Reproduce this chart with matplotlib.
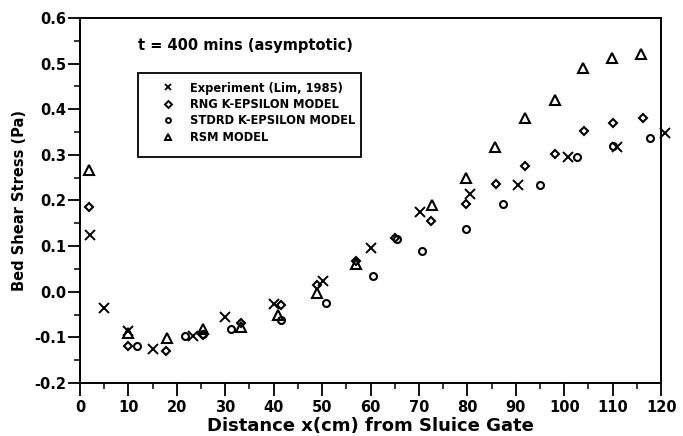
# bed shear stress downstream of the sluice gate, t = 400 min
import matplotlib
matplotlib.use('Agg')
import matplotlib.pyplot as plt
from matplotlib.patches import Rectangle
from matplotlib.lines import Line2D
import numpy as np

# experiment (Lim, 1985)
exp_x = [2.0, 5.0, 10.0, 15.0, 23.4, 30.0, 40.0, 50.2, 60.2, 70.3, 80.5, 90.5, 100.7, 110.8, 120.7]
exp_y = [0.124, -0.036, -0.085, -0.126, -0.096, -0.055, -0.027, 0.024, 0.095, 0.174, 0.214, 0.234, 0.296, 0.317, 0.348]

# RNG k-epsilon
rng_x = [1.8, 10.0, 17.7, 25.5, 33.3, 41.5, 48.9, 57.0, 65.0, 72.5, 79.8, 85.9, 91.9, 98.1, 104.1, 110.1, 116.2]
rng_y = [0.185, -0.120, -0.130, -0.095, -0.068, -0.030, 0.015, 0.068, 0.118, 0.155, 0.192, 0.236, 0.276, 0.302, 0.353, 0.370, 0.380]

# standard k-epsilon
std_x = [11.8, 21.7, 25.5, 31.2, 41.5, 50.8, 60.6, 65.5, 70.7, 79.7, 87.3, 94.9, 102.6, 110.0, 117.8]
std_y = [-0.118, -0.096, -0.092, -0.082, -0.062, -0.025, 0.035, 0.115, 0.090, 0.137, 0.192, 0.233, 0.295, 0.320, 0.337]

# reynolds stress model
rsm_x = [1.8, 10.0, 17.9, 25.5, 33.3, 41.0, 48.9, 57.0, 72.7, 79.8, 85.8, 91.9, 98.0, 103.8, 109.9, 115.8]
rsm_y = [0.267, -0.090, -0.101, -0.082, -0.078, -0.050, -0.003, 0.060, 0.190, 0.250, 0.318, 0.380, 0.421, 0.490, 0.512, 0.521]

legend_labels = ['Experiment (Lim, 1985)', 'RNG K-EPSILON MODEL',
                 'STDRD K-EPSILON MODEL', 'RSM MODEL']

plt.rcParams['font.family'] = 'DejaVu Sans'
plt.rcParams['font.weight'] = 'bold'

fig = plt.figure(figsize=(6.83, 4.36), dpi=100)
ax = fig.add_axes([0.117, 0.1216, 0.851, 0.8371])

mk = dict(linestyle='none', color='black', markerfacecolor='none', clip_on=False)
ax.plot(exp_x, exp_y, marker='x', markersize=7, markeredgewidth=1.4, **mk)
ax.plot(rng_x, rng_y, marker='D', markersize=4.5, markeredgewidth=1.5, **mk)
ax.plot(std_x, std_y, marker='o', markersize=5, markeredgewidth=1.5, **mk)
ax.plot(rsm_x, rsm_y, marker='^', markersize=6.5, markeredgewidth=1.5, **mk)

ax.set_xlim(0, 120)
ax.set_ylim(-0.2, 0.6)
ax.set_xticks(np.arange(0, 121, 10))
ax.set_xticks(np.arange(0, 121, 5), minor=True)
ax.set_yticks(np.arange(-0.2, 0.61, 0.1))
ax.set_yticks(np.arange(-0.2, 0.61, 0.05), minor=True)
ax.yaxis.set_major_formatter(matplotlib.ticker.FormatStrFormatter('%.1f'))

ax.tick_params(axis='both', which='major', direction='out', width=1.3, labelsize=10.5)
ax.tick_params(axis='x', which='major', length=9, pad=3)
ax.tick_params(axis='y', which='major', length=9, pad=1)
ax.tick_params(axis='both', which='minor', direction='out', length=4, width=1.1)
for lab in ax.get_xticklabels() + ax.get_yticklabels():
    lab.set_fontweight('bold')
for sp in ax.spines.values():
    sp.set_linewidth(1.4)

ax.set_xlabel('Distance x(cm) from Sluice Gate', fontsize=13, fontweight='bold', labelpad=2)
ax.set_ylabel('Bed Shear Stress (Pa)', fontsize=10.5, fontweight='bold', labelpad=5)

ax.text(0.1, 0.926, 't = 400 mins (asymptotic)', transform=ax.transAxes,
        fontsize=10.5, fontweight='bold', va='center', ha='left')

# legend box drawn separately so the long label can run past the frame
ax.add_patch(Rectangle((0.1007, 0.619), 0.383, 0.231, transform=ax.transAxes,
                       fill=False, edgecolor='black', linewidth=1.3))
handles = [Line2D([], [], marker='x', markersize=5, markeredgewidth=1.3, **mk),
           Line2D([], [], marker='D', markersize=3.5, markeredgewidth=1.4, **mk),
           Line2D([], [], marker='o', markersize=3.5, markeredgewidth=1.4, **mk),
           Line2D([], [], marker='^', markersize=5, markeredgewidth=1.4, **mk)]
leg = ax.legend(handles, legend_labels, loc='upper left', bbox_to_anchor=(0.142, 0.826),
                frameon=False, fontsize=8.3, handlelength=1.0, handletextpad=1.35,
                labelspacing=0.3, borderaxespad=0, borderpad=0)
for t in leg.get_texts():
    t.set_fontweight('bold')

fig.savefig('out.png', dpi=100)
